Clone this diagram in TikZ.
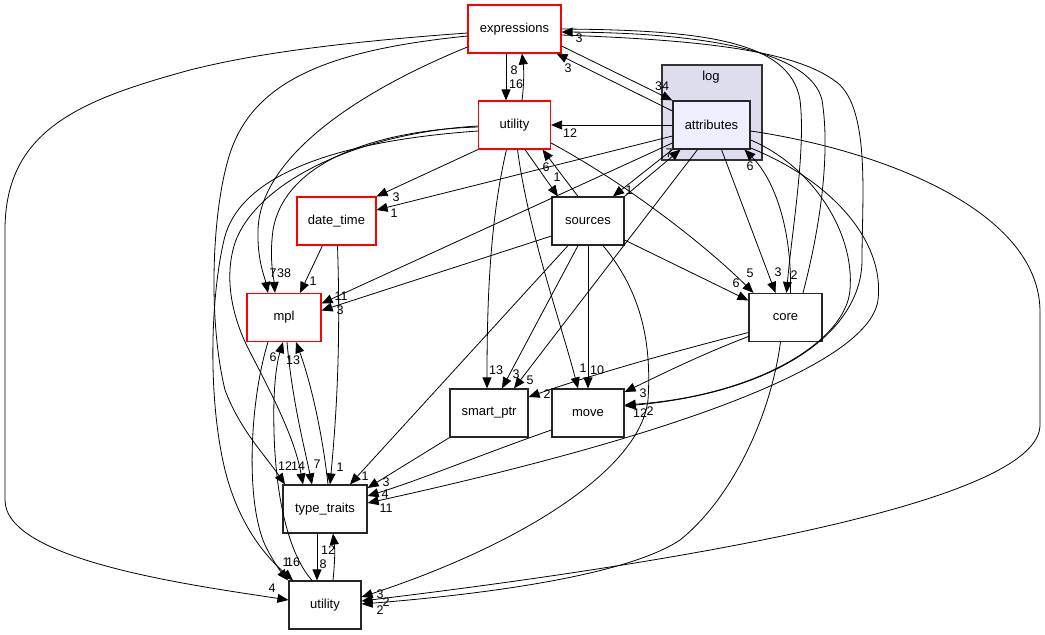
\documentclass[tikz,border=0pt]{standalone}
\usepackage{fontspec}
\setmainfont{Liberation Sans}
\usetikzlibrary{arrows.meta}
\definecolor{clusterfill}{RGB}{221,221,238}
\definecolor{focusfill}{RGB}{238,238,255}
\begin{document}
\begin{tikzpicture}[x=1pt, y=-1pt, every node/.style={font=\fontsize{13}{15}\selectfont}]
	\tikzstyle{dir} = [rectangle, draw=black!85, line width=1.2pt, fill=white, minimum height=48pt, inner sep=0pt]
	\tikzstyle{reddir} = [dir, draw=red, line width=1.1pt]
	\tikzstyle{num} = [inner sep=0pt, font=\fontsize{12.5}{14}\selectfont]
	\tikzstyle{dep} = [-{Triangle[length=11pt,width=9pt]}, line width=0.8pt]
	\useasboundingbox (0,0) rectangle (1045,635);
	% cluster of the focus directory
	\node[draw=black!80, line width=1.4pt, fill=clusterfill, minimum width=100pt, minimum height=95pt](log)at (712,112.5){};
	\node[](logname)at (711,77){log};
	\node[dir, fill=focusfill, minimum width=77pt](attributes)at (711.5,125){attributes};
	\node[reddir, minimum width=93pt](expressions)at (514.5,29){expressions};
	\node[reddir, minimum width=72pt](utility-top)at (514.5,125){utility};
	\node[reddir, minimum width=79pt](date-time)at (336.5,221){date\_time};
	\node[dir, minimum width=72pt](sources)at (588,221){sources};
	\node[reddir, minimum width=74pt](mpl)at (284,317.5){mpl};
	\node[dir, minimum width=73pt](core)at (785.5,317.5){core};
	\node[dir, minimum width=78pt](smart-ptr)at (489,413){smart\_ptr};
	\node[dir, minimum width=72pt](move)at (588,413){move};
	\node[dir, minimum width=84pt](type-traits)at (325,509){type\_traits};
	\node[dir, minimum width=72pt](utility-bot)at (325,605){utility};
	% straight dependencies
	\path[dep] ([xshift=-8.5pt]expressions.south) edge ([xshift=-8.5pt]utility-top.north)
	([yshift=-17pt]expressions.east) edge (attributes.north west)
	([yshift=14pt]attributes.west) edge ([xshift=42pt]expressions.south)
	(attributes.west) edge (utility-top.east)
	([xshift=10pt]attributes.south) edge ([xshift=-10pt]core.north)
	([yshift=-11pt]attributes.west) edge ([yshift=11pt]date-time.east)
	([yshift=-18pt]attributes.west) edge ([yshift=14pt]mpl.east)
	([xshift=-14pt]attributes.south) edge ([xshift=25pt]smart-ptr.north)
	(utility-top.south west) edge (date-time.north east)
	([xshift=10.5pt]utility-top.south) edge ([xshift=-30pt]sources.north)
	([xshift=-10pt]sources.north) edge ([xshift=28pt]utility-top.south)
	(attributes.south west) edge ([xshift=25pt]sources.north)
	(sources.north east) edge ([xshift=-31pt]attributes.south)
	([yshift=-15pt]sources.west) edge ([yshift=7pt]mpl.east)
	([xshift=-20pt]sources.south) edge ([xshift=25pt]type-traits.north)
	([xshift=-10pt]sources.south) edge ([xshift=13pt]smart-ptr.north)
	(sources.south) edge (move.north)
	([yshift=-19pt]sources.east) edge ([yshift=17pt]core.west)
	([xshift=-14pt]date-time.south) edge ([xshift=16pt]mpl.north)
	([xshift=-8pt]type-traits.south) edge ([xshift=-8pt]utility-bot.north)
	(smart-ptr.south west) edge ([yshift=21pt]type-traits.east);
	% curved dependencies
	\draw[dep] ([xshift=7.5pt]utility-top.north) .. controls (524,85) and (524,70) .. ([xshift=7.5pt]expressions.south);
	\draw[dep] ([xshift=17.5pt]core.north) .. controls (822,220) and (830,150) .. (822,100) .. controls (810,50) and (700,33) .. ([yshift=-3pt]expressions.east);
	\draw[dep] (expressions.east) .. controls (700,30) and (790,40) .. (800,100) .. controls (806,150) and (792,230) .. ([xshift=1pt]core.north);
	\draw[dep] ([xshift=5pt]core.north) .. controls (792,230) and (775,180) .. ([xshift=33pt]attributes.south);
	\draw[dep] ([yshift=-6pt]expressions.east) .. controls (700,40) and (800,50) .. (840,85) .. controls (870,115) and (862,200) .. (862,260) .. controls (862,330) and (780,392) .. ([yshift=7pt]move.east);
	\draw[dep] ([yshift=-15pt]attributes.east) .. controls (810,165) and (855,230) .. (850,290) .. controls (846,340) and (760,395) .. ([yshift=8pt]move.east);
	\draw[dep] ([yshift=-23pt]attributes.east) .. controls (830,180) and (885,240) .. (878,300) .. controls (870,360) and (700,430) .. ([yshift=6pt]type-traits.east);
	\draw[dep] ([yshift=-6pt]attributes.east) .. controls (880,150) and (1040,210) .. (1040,312) -- (1040,425) .. controls (1040,500) and (700,560) .. ([yshift=4pt]utility-bot.east);
	\draw[dep] ([yshift=-18pt]utility-top.east) .. controls (620,180) and (700,240) .. ([xshift=-32pt]core.north);
	\draw[dep] ([xshift=-8pt]utility-top.south) .. controls (490,220) and (487,300) .. ([xshift=-2pt]smart-ptr.north);
	\draw[dep] ([xshift=3pt]utility-top.south) .. controls (528,230) and (560,320) .. ([xshift=-10pt]move.north);
	\draw[dep] ([xshift=15pt]sources.south) .. controls (640,290) and (652,340) .. (648,400) .. controls (640,470) and (520,545) .. ([yshift=8pt]utility-bot.east);
	\draw[dep] ([yshift=-15pt]core.west) .. controls (680,350) and (600,372) .. ([yshift=16pt]smart-ptr.east);
	\draw[dep] ([yshift=-19pt]core.west) .. controls (700,355) and (660,375) .. ([yshift=21pt]move.east);
	\draw[dep] ([xshift=-5pt]core.south) .. controls (770,420) and (730,500) .. (680,540) .. controls (620,580) and (450,597) .. ([yshift=1pt]utility-bot.east);
	\draw[dep] ([yshift=-17pt]move.west) .. controls (480,455) and (420,480) .. ([yshift=13pt]type-traits.east);
	\draw[dep] ([xshift=1pt]date-time.south) .. controls (341,350) and (336,420) .. ([xshift=5pt]type-traits.north);
	\draw[dep] ([yshift=-18pt]expressions.west) .. controls (350,95) and (260,160) .. (258,230) .. controls (257,260) and (265,278) .. ([xshift=-16pt]mpl.north);
	\draw[dep] ([yshift=-2pt]utility-top.west) .. controls (380,130) and (285,160) .. (273,230) .. controls (269,260) and (274,280) .. ([xshift=-9pt]mpl.north);
	\draw[dep] ([yshift=-4pt]expressions.west) .. controls (300,45) and (230,60) .. (190,70) .. controls (80,100) and (5,130) .. (5,230) -- (5,500) .. controls (5,560) and (190,585) .. ([yshift=5pt]utility-bot.west);
	\draw[dep] ([yshift=-7pt]expressions.west) .. controls (330,50) and (250,80) .. (228,160) .. controls (212,215) and (208,320) .. (225,390) .. controls (240,430) and (265,455) .. ([xshift=-40pt]type-traits.north);
	\draw[dep] ([yshift=-6pt]utility-top.west) .. controls (350,140) and (240,170) .. (224,240) .. controls (210,300) and (208,400) .. (225,470) .. controls (240,530) and (270,560) .. ([xshift=-32pt]utility-bot.north);
	\draw[dep] ([yshift=-1pt]utility-top.west) .. controls (360,133) and (260,180) .. (236,240) .. controls (225,270) and (228,310) .. (250,352) .. controls (275,400) and (295,440) .. ([xshift=-22pt]type-traits.north);
	\draw[dep] ([xshift=-16pt]mpl.south) .. controls (250,400) and (245,500) .. (265,545) .. controls (275,565) and (282,573) .. ([xshift=-37pt]utility-bot.north);
	\draw[dep] ([xshift=-13pt]utility-bot.north) .. controls (285,550) and (272,480) .. (274,400) .. controls (275,370) and (279,355) .. ([xshift=-1pt]mpl.south);
	\draw[dep] ([xshift=3pt]mpl.south) .. controls (292,400) and (305,450) .. ([xshift=-13pt]type-traits.north);
	\draw[dep] ([xshift=3pt]type-traits.north) .. controls (322,430) and (310,380) .. ([xshift=12pt]mpl.south);
	\draw[dep] ([xshift=8pt]utility-bot.north) .. controls (335,560) and (335,550) .. ([xshift=8pt]type-traits.south);
	% edge counts
	\foreach \x/\y/\t [count=\i] in {514/70/8, 516/84/16, 662/86/34, 568/68/3, 579/38/3, 570/133/12,
		396/197/3, 394/213/1, 273/273/7, 284/273/38, 313/281/1, 341/296/11, 340/310/3,
		273/357/6, 293/360/13, 285/466/12, 298/466/14, 317/464/7, 340/467/1, 365/476/1,
		386/482/3, 385/494/4, 386/508/11, 496/370/13, 516/374/3, 530/380/5, 547/394/2,
		583/368/1, 597/370/10, 643/393/3, 640/413/12, 650/411/2, 286/562/1, 293/562/16,
		272/588/4, 328/550/12, 323/564/8, 380/594/3, 386/602/2, 380/610/2,
		736/283/6, 750/273/5, 778/272/3, 794/275/2, 669/153/7, 750/166/6,
		629/190/1, 557/177/1, 546/167/6}
		\node[num](count-\i)at (\x,\y){\t};
\end{tikzpicture}
\end{document}
